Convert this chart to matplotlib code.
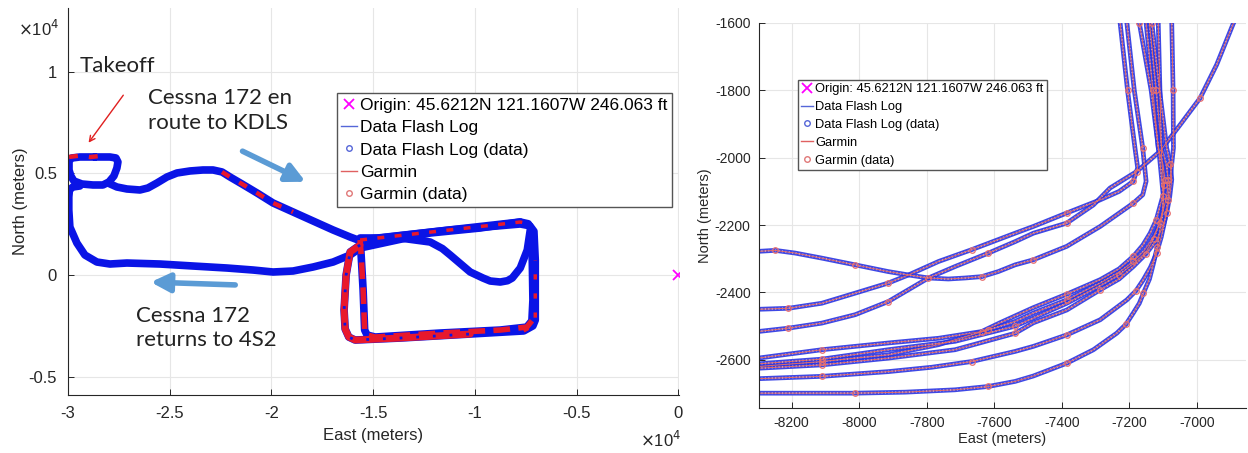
import matplotlib
matplotlib.use("Agg")
import matplotlib.pyplot as plt
from matplotlib.lines import Line2D
from matplotlib.ticker import FuncFormatter, MultipleLocator

plt.rcParams['font.family'] = ['Liberation Sans', 'DejaVu Sans']
plt.rcParams['axes.unicode_minus'] = False

# ---- left panel: whole flight, East / North in meters ----
pattern_e = [-28678, -29416, -29810, -29950, -29950, -29858, -29711, -29318, -28776, -28284,
             -27989, -27743, -27596, -27546, -27645, -27940, -28678]
pattern_n = [5804, 5804, 5755, 5608, 5165, 4870, 4624, 4476, 4427, 4427,
             4575, 4870, 5263, 5559, 5755, 5804, 5804]

outbound_e = [-28038, -27596, -27104, -26465, -26071, -25628, -25136, -24644, -24005, -23366,
              -22873, -22431, -22037, -21447, -20709, -19922, -18938, -17954, -16970, -16134, -15741]
outbound_n = [4526, 4329, 4230, 4181, 4280, 4525, 4821, 5017, 5116, 5165,
              5165, 5067, 4821, 4476, 4034, 3542, 3099, 2656, 2214, 1869, 1722]

lap_a_e = [-15643, -11707, -7772, -7380, -7230, -7182, -7150, -7200, -7450, -8756, -11707,
           -14900, -15300, -15420, -15495, -15593, -15643]
lap_a_n = [1722, 2164, 2607, 2520, 2250, 738, -1230, -2250, -2560, -2706, -2853,
           -3050, -2950, -2706, -738, 984, 1722]

lap_b_e = [-15643, -16134, -16331, -16430, -16380, -16200, -15889, -13675, -10232, -7600, -7150,
           -7034, -7034, -7100, -7300, -7772, -11215, -14659, -15643]
lap_b_n = [1476, 1131, 0, -1722, -2650, -3050, -3197, -3099, -2902, -2750, -2500,
           -2214, 738, 2150, 2420, 2509, 2214, 1820, 1476]

triangle_e = [-15643, -13675, -12199, -11600, -11215, -10232, -9600, -9248, -8756, -8400, -8166,
              -7772, -7428, -7280]
triangle_n = [1820, 1820, 1623, 1300, 984, 148, -150, -295, -344, -280, -148,
              344, 1230, 2214]

return_e = [-7772, -9740, -12199, -13823, -15643, -16134, -16970, -17954, -18938, -19922,
            -20906, -22185, -23857, -25480, -27104, -27940, -28580, -29170, -29564, -29908,
            -29960, -29960, -29930, -29760, -29416]
return_n = [2607, 2312, 2066, 1722, 1328, 984, 639, 394, 197, 148,
            246, 344, 443, 541, 590, 541, 639, 984, 1574, 2361,
            3197, 3837, 4181, 4329, 4378]

garmin_takeoff_e = [-29950, -29416, -28900, -28432]
garmin_takeoff_n = [5806, 5870, 5800, 5854]
garmin_route_e = [-22431, -22037, -21447, -20709, -19922, -18938]
garmin_route_n = [5067, 4821, 4476, 4034, 3542, 3099]

origin_e = [0]
origin_n = [0]

# ---- right panel: zoom on the south-east corner of the pattern ----
u1_e = [-8300, -8210, -8111, -8012, -7914, -7854, -7765, -7667, -7538, -7484, -7385, -7286, -7230, -7188, -7175, -7183, -7205, -7227]
u1_n = [-2450, -2447, -2432, -2402, -2372, -2348, -2308, -2273, -2224, -2204, -2164, -2125, -2100, -2070, -2030, -1971, -1800, -1600]

u2_e = [-8300, -8210, -8111, -8012, -7914, -7795, -7716, -7617, -7538, -7484, -7385, -7306, -7257, -7178, -7109, -7049, -6990, -6941, -6891, -6870]
u2_n = [-2516, -2506, -2491, -2466, -2427, -2357, -2323, -2283, -2249, -2224, -2194, -2140, -2090, -2041, -1981, -1902, -1823, -1724, -1600, -1560]

u3_e = [-8300, -8249, -8190, -8111, -8012, -7914, -7854, -7795, -7736, -7686, -7637, -7588, -7538, -7484, -7385, -7286, -7188, -7160, -7150, -7160, -7185, -7207]
u3_n = [-2278, -2275, -2283, -2298, -2318, -2338, -2348, -2357, -2360, -2357, -2353, -2338, -2318, -2303, -2263, -2204, -2135, -2110, -2070, -1971, -1800, -1600]

l1_e = [-8300, -8111, -7914, -7765, -7637, -7583, -7484, -7385, -7286, -7230, -7188, -7160, -7138, -7120, -7109, -7098, -7094, -7100, -7114, -7130, -7150]
l1_n = [-2595, -2570, -2550, -2536, -2516, -2490, -2445, -2405, -2362, -2330, -2293, -2260, -2224, -2185, -2145, -2105, -2065, -2020, -1971, -1800, -1600]

l2_e = [-8300, -8111, -7914, -7765, -7617, -7538, -7484, -7385, -7286, -7230, -7188, -7155, -7128, -7110, -7099, -7088, -7084, -7090, -7104, -7120, -7140]
l2_n = [-2620, -2605, -2585, -2555, -2511, -2486, -2461, -2422, -2372, -2340, -2308, -2275, -2234, -2195, -2155, -2110, -2065, -2020, -1971, -1800, -1600]

l2b_e = [-8300, -8111, -7914, -7716, -7538, -7385, -7286, -7230, -7188, -7150, -7128, -7110, -7100, -7098, -7104, -7114]
l2b_n = [-2612, -2598, -2570, -2545, -2500, -2432, -2380, -2348, -2315, -2280, -2240, -2195, -2150, -2080, -2000, -1600]

l3_e = [-8300, -8111, -7914, -7716, -7538, -7484, -7385, -7286, -7230, -7188, -7150, -7119, -7100, -7089, -7080, -7074, -7078, -7089, -7110, -7133]
l3_n = [-2625, -2615, -2595, -2570, -2521, -2490, -2452, -2392, -2360, -2323, -2285, -2244, -2205, -2164, -2115, -2065, -2020, -1971, -1800, -1600]

l4_e = [-8300, -8111, -7914, -7785, -7667, -7538, -7484, -7385, -7286, -7207, -7180, -7158, -7137, -7119, -7105, -7094, -7085, -7079, -7069, -7070, -7074]
l4_n = [-2656, -2649, -2635, -2622, -2605, -2575, -2560, -2526, -2481, -2422, -2395, -2362, -2325, -2283, -2235, -2184, -2125, -2065, -1971, -1800, -1600]

l5_e = [-8300, -8012, -7864, -7716, -7617, -7538, -7484, -7385, -7306, -7237, -7210, -7188, -7170, -7158, -7140, -7128, -7117, -7109, -7101, -7099, -7110, -7135, -7170]
l5_n = [-2699, -2699, -2696, -2689, -2679, -2664, -2648, -2610, -2570, -2521, -2495, -2461, -2432, -2402, -2360, -2313, -2265, -2214, -2165, -2115, -2000, -1800, -1600]

legend_labels = ['Origin: 45.6212N 121.1607W 246.063 ft', 'Data Flash Log',
                 'Data Flash Log (data)', 'Garmin', 'Garmin (data)']

BLUE = '#0a14e6'
RED = '#e8182c'
ARROW = '#5b9bd5'
TXT = '#262626'

fig = plt.figure(figsize=(12.48, 4.53), dpi=100)
ax1 = fig.add_axes([68 / 1248, 1 - 395 / 453, 611 / 1248, 387 / 453])
ax2 = fig.add_axes([759 / 1248, 1 - 408 / 453, 487 / 1248, 385 / 453])


def legend_handles():
    return [Line2D([], [], ls='none', marker='x', color='#ff00ff', ms=7, mew=1.3),
            Line2D([], [], color='#5566d8', lw=1),
            Line2D([], [], ls='none', marker='o', mfc='none', mec='#5566d8', ms=4, mew=1),
            Line2D([], [], color='#e06060', lw=1),
            Line2D([], [], ls='none', marker='o', mfc='none', mec='#e07878', ms=4, mew=1)]


def style_axes(ax, size, pad):
    for s in ['top', 'right']:
        ax.spines[s].set_visible(False)
    for s in ['left', 'bottom']:
        ax.spines[s].set_color(TXT)
        ax.spines[s].set_linewidth(0.8)
    ax.tick_params(direction='in', length=4, width=0.7, color=TXT, labelcolor=TXT,
                   labelsize=size, pad=pad)
    ax.grid(True, color='#e6e6e6', lw=0.8)
    ax.set_axisbelow(True)


# left panel
for e, n in [(pattern_e, pattern_n), (outbound_e, outbound_n), (lap_a_e, lap_a_n),
             (lap_b_e, lap_b_n), (triangle_e, triangle_n), (return_e, return_n)]:
    ax1.plot(e, n, color=BLUE, lw=5.5, solid_capstyle='round', solid_joinstyle='round')
for e, n in [(garmin_takeoff_e, garmin_takeoff_n), (garmin_route_e, garmin_route_n)]:
    ax1.plot(e, n, color=RED, lw=3.2, dashes=(2, 2.5))
ax1.plot(lap_b_e[:9], lap_b_n[:9], color=RED, lw=5, solid_capstyle='round', solid_joinstyle='round')
ax1.plot(lap_a_e[7:], lap_a_n[7:], color=RED, lw=4, dashes=(3, 1.5))
ax1.plot(lap_b_e[:9], lap_b_n[:9], color=BLUE, lw=2, dashes=(1, 5))
ax1.plot(lap_a_e[:4], lap_a_n[:4], color=RED, lw=2.5, dashes=(2, 3))
ax1.plot(lap_b_e[9:13], lap_b_n[9:13], color=RED, lw=2.5, dashes=(1.5, 4))
ax1.plot(origin_e, origin_n, ls='none', marker='x', color='#ff00ff', ms=7, mew=1.3)

ax1.set_xlim(-30000, 30)
ax1.set_ylim(-5900, 13130)
ax1.xaxis.set_major_locator(MultipleLocator(5000))
ax1.yaxis.set_major_locator(MultipleLocator(5000))
fmt = FuncFormatter(lambda v, p: '%g' % (v / 1e4))
ax1.xaxis.set_major_formatter(fmt)
ax1.yaxis.set_major_formatter(fmt)
style_axes(ax1, 12, 8)
ax1.set_xlabel('East (meters)', fontsize=12, color=TXT, labelpad=5)
ax1.set_ylabel('North (meters)', fontsize=12, color=TXT, labelpad=0)
fig.text(18 / 1248, 1 - 36 / 453, r'$\times$10$^4$', fontsize=12, color=TXT)
fig.text(640 / 1248, 1 - 447 / 453, r'$\times$10$^4$', fontsize=12, color=TXT)

ax1.legend(legend_handles(), legend_labels, loc='upper right', bbox_to_anchor=(0.9885, 0.78),
           borderaxespad=0, fontsize=12.5, handlelength=0.9, handletextpad=0.2, labelspacing=0.42,
           borderpad=0.25, fancybox=False, framealpha=1, edgecolor='#555555')

ann_font = dict(family=['Lato', 'DejaVu Sans'], fontsize=16, color='#222222')
ax1.text(-29416, 9986, 'Takeoff', va='baseline', ha='left', **ann_font)
ax1.text(-26071, 9200, 'Cessna 172 en\nroute to KDLS', va='top', ha='left', linespacing=1.3, **ann_font)
ax1.text(-26661, -1500, 'Cessna 172\nreturns to 4S2', va='top', ha='left', linespacing=1.3, **ann_font)
ax1.annotate('', xy=(-29071, 6395), xytext=(-27202, 8953),
             arrowprops=dict(arrowstyle='->', color='#e02020', lw=1, mutation_scale=10))
ax1.annotate('', xy=(-18200, 4525), xytext=(-21545, 6149),
             arrowprops=dict(arrowstyle='-|>', color=ARROW, lw=4, mutation_scale=28))
ax1.annotate('', xy=(-26071, -344), xytext=(-21644, -492),
             arrowprops=dict(arrowstyle='-|>', color=ARROW, lw=4, mutation_scale=28))

# right panel
curves = [(u1_e, u1_n), (u2_e, u2_n), (u3_e, u3_n), (l1_e, l1_n), (l2_e, l2_n),
          (l2b_e, l2b_n), (l3_e, l3_n), (l4_e, l4_n), (l5_e, l5_n)]
for e, n in curves:
    ax2.plot(e, n, color='#2a34e2', lw=3.4, alpha=0.9, solid_joinstyle='round')
    ax2.plot(e, n, color='#c4c8ff', lw=1.3, dashes=(0.6, 1.3))
for e, n in curves:
    ax2.plot(e, n, color='#e86a60', lw=0.7)
    ax2.plot(e[1::3], n[1::3], ls='none', marker='o', mfc='none', mec='#e87070', ms=4, mew=0.9)

ax2.set_xlim(-8297, -6854)
ax2.set_ylim(-2743, -1600)
ax2.xaxis.set_major_locator(MultipleLocator(200))
ax2.yaxis.set_major_locator(MultipleLocator(200))
ax2.xaxis.set_major_formatter(FuncFormatter(lambda v, p: '%d' % v))
ax2.yaxis.set_major_formatter(FuncFormatter(lambda v, p: '%d' % v))
style_axes(ax2, 10, 6)
ax2.set_xlabel('East (meters)', fontsize=10.5, color=TXT, labelpad=1)
ax2.set_ylabel('North (meters)', fontsize=10.5, color=TXT, labelpad=2)
ax2.legend(legend_handles(), legend_labels, loc='upper left', bbox_to_anchor=(0.08, 0.852),
           borderaxespad=0, fontsize=9.3, handlelength=0.9, handletextpad=0.2, labelspacing=0.45,
           borderpad=0.25, fancybox=False, framealpha=1, edgecolor='#555555')

fig.savefig('out.png', dpi=100)
